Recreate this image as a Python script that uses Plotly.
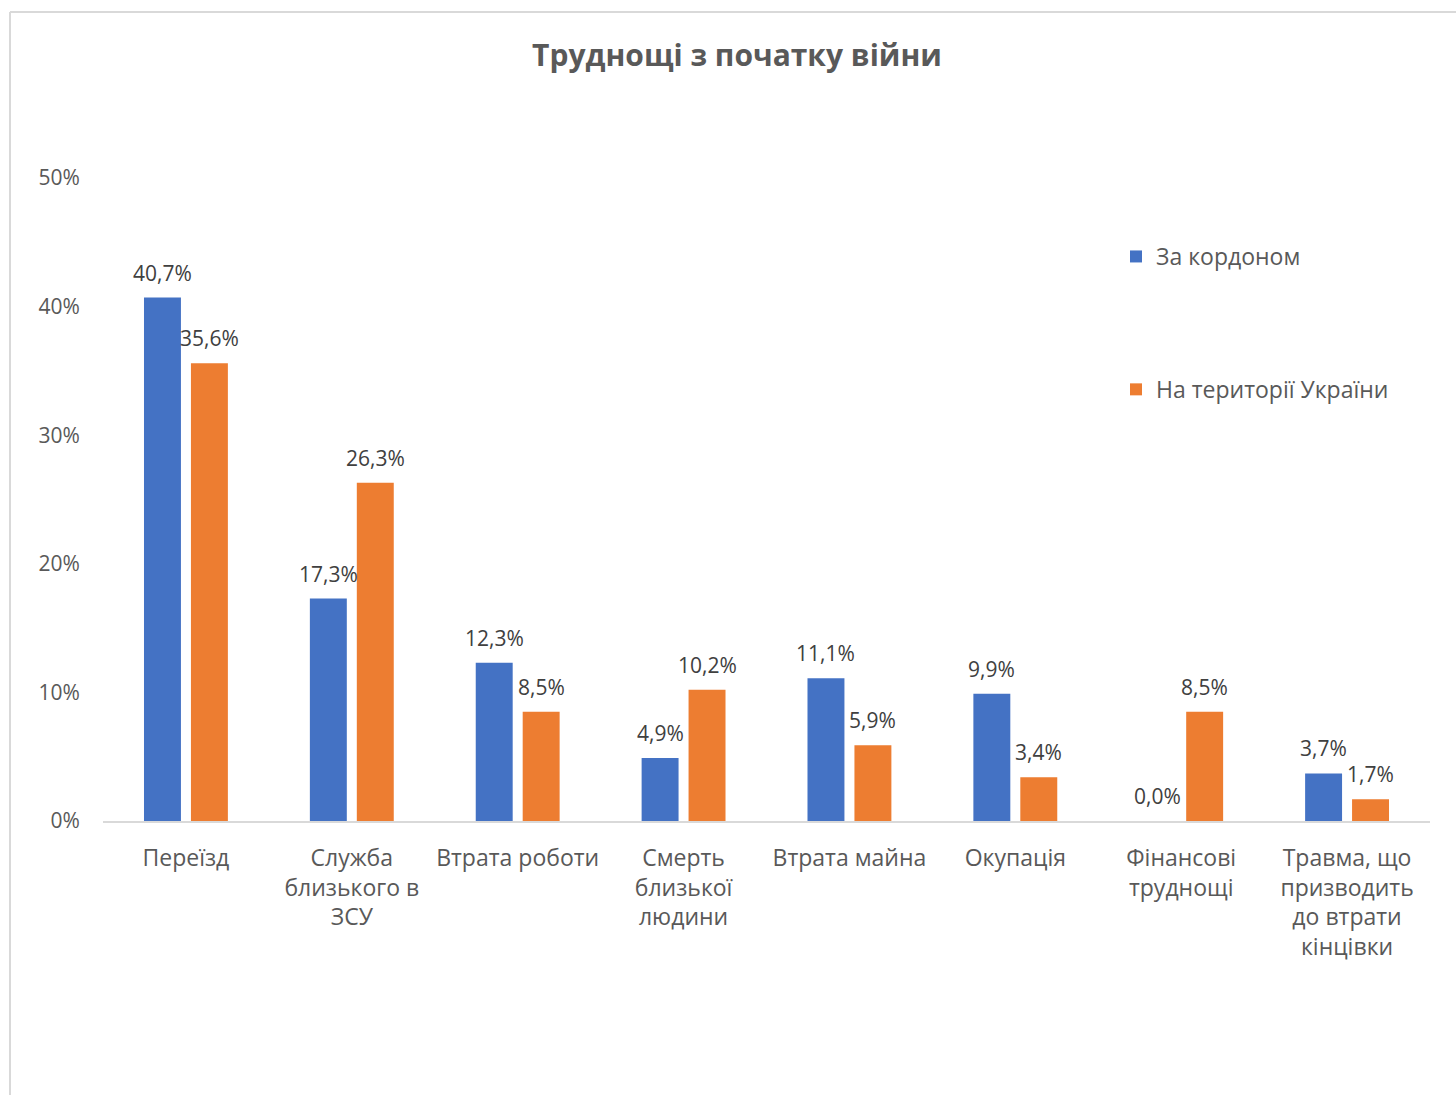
import plotly.graph_objects as go

# Категорії та значення (%)
categories = [
    "Переїзд",
    "Служба<br>близького в<br>ЗСУ",
    "Втрата роботи",
    "Смерть<br>близької<br>людини",
    "Втрата майна",
    "Окупація",
    "Фінансові<br>труднощі",
    "Травма, що<br>призводить<br>до втрати<br>кінцівки",
]
abroad = [40.7, 17.3, 12.3, 4.9, 11.1, 9.9, 0.0, 3.7]
in_ukraine = [35.6, 26.3, 8.5, 10.2, 5.9, 3.4, 8.5, 1.7]
series_names = ["За кордоном", "На території України"]
y_ticks = [0, 10, 20, 30, 40, 50]
y_tick_labels = ["0%", "10%", "20%", "30%", "40%", "50%"]

BLUE = "#4472C4"
ORANGE = "#ED7D31"
TEXT = "#595959"
LABEL = "#404040"
FONT = "Open Sans"

W, H = 1456, 1095
L, R, T, B = 103, 26, 178, 274

fig = go.Figure()
for i, (name, vals, col) in enumerate(
    [(series_names[0], abroad, BLUE), (series_names[1], in_ukraine, ORANGE)]
):
    fig.add_trace(
        go.Bar(
            x=categories,
            y=vals,
            name=name,
            marker=dict(color=col, line=dict(width=0)),
            legendgroup=f"g{i}",
            hoverinfo="skip",
        )
    )

# Підписи значень над стовпчиками
slot = (W - L - R) / len(categories)
bar_offset = slot * (1 - 0.434) / 4
annotations = []
for vals, sign in [(abroad, -1), (in_ukraine, 1)]:
    for c, v in zip(categories, vals):
        annotations.append(
            dict(
                x=c,
                y=v,
                xref="x",
                yref="y",
                text=f"{v:.1f}%".replace(".", ","),
                showarrow=False,
                xshift=sign * bar_offset,
                yshift=25,
                yanchor="middle",
                font=dict(family=FONT, size=21, color=LABEL),
            )
        )

fig.update_layout(
    width=W,
    height=H,
    margin=dict(l=L, r=R, t=T, b=B),
    paper_bgcolor="white",
    plot_bgcolor="white",
    barmode="group",
    bargap=0.434,
    bargroupgap=0.213,
    font=dict(family=FONT, color=TEXT),
    title=dict(
        text="<b>Труднощі з початку війни</b>",
        x=737 / W,
        xanchor="center",
        xref="container",
        y=1 - 55 / H,
        yanchor="middle",
        yref="container",
        font=dict(family=FONT, size=30, color=TEXT),
    ),
    legend=dict(
        x=(1116 - L) / (W - L - R),
        xanchor="left",
        y=(H - B - 235) / (H - T - B),
        yanchor="top",
        traceorder="grouped",
        tracegroupgap=100,
        font=dict(family=FONT, size=23, color=TEXT),
        bgcolor="rgba(0,0,0,0)",
        itemclick=False,
    ),
    annotations=annotations,
    showlegend=True,
    shapes=[
        dict(type="line", xref="paper", yref="paper",
             x0=(10 - L) / (W - L - R), x1=(W + 5 - L) / (W - L - R),
             y0=(H - B - 12) / (H - T - B), y1=(H - B - 12) / (H - T - B),
             line=dict(color="#D9D9D9", width=2)),
        dict(type="line", xref="paper", yref="paper",
             x0=(10 - L) / (W - L - R), x1=(10 - L) / (W - L - R),
             y0=(H - B - 12) / (H - T - B), y1=-(B + 5) / (H - T - B),
             line=dict(color="#D9D9D9", width=2)),
    ],
)

fig.update_xaxes(
    type="category",
    showline=True,
    linecolor="#D9D9D9",
    linewidth=2,
    showgrid=False,
    ticks="outside",
    ticklen=15,
    tickcolor="rgba(0,0,0,0)",
    tickfont=dict(family=FONT, size=23, color=TEXT),
    tickangle=0,
)
fig.update_yaxes(
    range=[0, 50],
    tickvals=y_ticks,
    ticktext=y_tick_labels,
    showgrid=False,
    zeroline=False,
    showline=False,
    ticks="outside",
    ticklen=18,
    tickcolor="rgba(0,0,0,0)",
    tickfont=dict(family=FONT, size=21, color=TEXT),
)

fig.write_html("out.html")
